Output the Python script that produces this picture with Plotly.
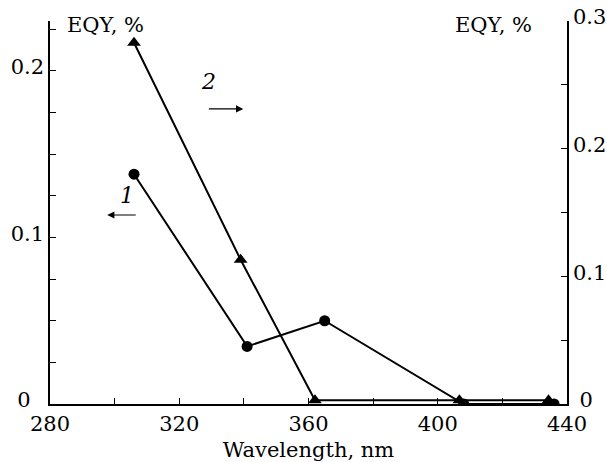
import plotly.graph_objects as go

# Series 1 (circles, left axis)
wl_1 = [306, 341, 365, 408, 436]
eqy_1 = [0.138, 0.0346, 0.050, 0.0, 0.0]
# Series 2 (triangles, right axis)
wl_2 = [306, 339, 362, 406.7, 434.3]
eqy_2 = [0.283, 0.113, 0.003, 0.003, 0.003]

# Tick labels
x_ticks = [280, 320, 360, 400, 440]
x_labels = ["280", "320", "360", "400", "440"]
y1_ticks = [0, 0.1, 0.2]
y1_labels = ["0&nbsp;&nbsp;", "0.1", "0.2"]
y2_ticks = [0, 0.1, 0.2, 0.3]
y2_labels = ["&nbsp;0", "0.1", "0.2", "0.3"]

FONT = "DejaVu Serif"
fs = 21

fig = go.Figure()
fig.add_trace(go.Scatter(x=wl_1, y=eqy_1, mode="lines+markers", yaxis="y",
                         line=dict(color="black", width=2),
                         marker=dict(symbol="circle", size=11, color="black"),
                         showlegend=False))
fig.add_trace(go.Scatter(x=wl_2, y=eqy_2, mode="lines+markers", yaxis="y2",
                         line=dict(color="black", width=2),
                         marker=dict(symbol="triangle-up", size=12, color="black"),
                         showlegend=False))

axis_common = dict(showgrid=False, zeroline=False, showline=True, linecolor="black",
                   linewidth=1.5, ticks="inside", ticklen=6, tickwidth=1.2, tickcolor="black",
                   automargin=False,
                   tickfont=dict(family=FONT, size=fs, color="black"))

fig.update_layout(
    width=607, height=462,
    margin=dict(l=50, r=40, t=21, b=58),
    paper_bgcolor="white", plot_bgcolor="white",
    font=dict(family=FONT, size=fs, color="black"),
    xaxis=dict(range=[280, 440], tickvals=x_ticks, ticktext=x_labels,
               minor=dict(dtick=20, tick0=280, ticks="inside", ticklen=6, tickwidth=1.2, tickcolor="black"),
               title=dict(text="Wavelength, nm", font=dict(family=FONT, size=fs), standoff=9),
               **axis_common),
    yaxis=dict(range=[0, 0.23], tickvals=y1_ticks, ticktext=y1_labels, ticklabelshift=-4,
               minor=dict(dtick=0.025, tick0=0, ticks="inside", ticklen=6, tickwidth=1.2, tickcolor="black"),
               **axis_common),
    yaxis2=dict(range=[0, 0.3], tickvals=y2_ticks, ticktext=y2_labels, overlaying="y", side="right",
                ticklabelshift=-4,
                minor=dict(dtick=0.05, tick0=0, ticks="inside", ticklen=6, tickwidth=1.2, tickcolor="black"),
                **axis_common),
)

# Axis captions
fig.add_annotation(text="EQY, %", xref="paper", yref="paper", x=0.107, y=0.99,
                   xanchor="center", yanchor="middle", showarrow=False,
                   font=dict(family=FONT, size=fs))
fig.add_annotation(text="EQY, %", xref="paper", yref="paper", x=0.857, y=0.99,
                   xanchor="center", yanchor="middle", showarrow=False,
                   font=dict(family=FONT, size=fs))

# Curve labels
fig.add_annotation(text="<i>2</i>", x=329.0, y=0.1934, xref="x", yref="y",
                   showarrow=False, font=dict(family=FONT, size=fs + 1))
fig.add_annotation(text="<i>1</i>", x=303.9, y=0.1255, xref="x", yref="y",
                   showarrow=False, font=dict(family=FONT, size=fs + 1))
# Arrows
fig.add_annotation(text="", x=339.8, y=0.1772, ax=328.7, ay=0.1772,
                   xref="x", yref="y", axref="x", ayref="y", showarrow=True,
                   arrowhead=2, arrowsize=1.2, arrowwidth=1.2, arrowcolor="black")
fig.add_annotation(text="", x=297.7, y=0.1135, ax=307.0, ay=0.1135,
                   xref="x", yref="y", axref="x", ayref="y", showarrow=True,
                   arrowhead=2, arrowsize=1.2, arrowwidth=1.2, arrowcolor="black")

# remove the browser's default page margin so the figure fills the window exactly
fig.write_html("out.html", config={"displayModeBar": False},
               post_script="document.body.style.margin='0';document.body.style.overflow='hidden';")
